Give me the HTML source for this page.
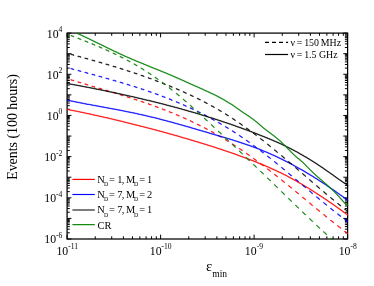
<!DOCTYPE html>
<html><head><meta charset="utf-8"><title>chart</title>
<style>
html,body{margin:0;padding:0;background:#fff;}
body{width:374px;height:286px;position:relative;overflow:hidden;font-family:"Liberation Serif",serif;}
</style></head><body>
<svg width="374" height="286" viewBox="0 0 374 286" style="position:absolute;left:0;top:0;will-change:transform">
<defs><clipPath id="c"><rect x="66.5" y="32.5" width="281.7" height="207.1"/></clipPath></defs>
<path d="M67.10,239.0 v-4.3 M67.10,33.1 v4.3 M95.25,239.0 v-2.7 M95.25,33.1 v2.7 M111.71,239.0 v-2.7 M111.71,33.1 v2.7 M123.39,239.0 v-2.7 M123.39,33.1 v2.7 M132.45,239.0 v-2.7 M132.45,33.1 v2.7 M139.86,239.0 v-2.7 M139.86,33.1 v2.7 M146.12,239.0 v-2.7 M146.12,33.1 v2.7 M151.54,239.0 v-2.7 M151.54,33.1 v2.7 M156.32,239.0 v-2.7 M156.32,33.1 v2.7 M160.60,239.0 v-4.3 M160.60,33.1 v4.3 M188.75,239.0 v-2.7 M188.75,33.1 v2.7 M205.21,239.0 v-2.7 M205.21,33.1 v2.7 M216.89,239.0 v-2.7 M216.89,33.1 v2.7 M225.95,239.0 v-2.7 M225.95,33.1 v2.7 M233.36,239.0 v-2.7 M233.36,33.1 v2.7 M239.62,239.0 v-2.7 M239.62,33.1 v2.7 M245.04,239.0 v-2.7 M245.04,33.1 v2.7 M249.82,239.0 v-2.7 M249.82,33.1 v2.7 M254.10,239.0 v-4.3 M254.10,33.1 v4.3 M282.25,239.0 v-2.7 M282.25,33.1 v2.7 M298.71,239.0 v-2.7 M298.71,33.1 v2.7 M310.39,239.0 v-2.7 M310.39,33.1 v2.7 M319.45,239.0 v-2.7 M319.45,33.1 v2.7 M326.86,239.0 v-2.7 M326.86,33.1 v2.7 M333.12,239.0 v-2.7 M333.12,33.1 v2.7 M338.54,239.0 v-2.7 M338.54,33.1 v2.7 M343.32,239.0 v-2.7 M343.32,33.1 v2.7 M347.60,239.0 v-4.3 M347.60,33.1 v4.3 M67.1,239.00 h4.3 M347.6,239.00 h-4.3 M67.1,232.80 h2.7 M347.6,232.80 h-2.7 M67.1,229.18 h2.7 M347.6,229.18 h-2.7 M67.1,226.60 h2.7 M347.6,226.60 h-2.7 M67.1,224.61 h2.7 M347.6,224.61 h-2.7 M67.1,222.98 h2.7 M347.6,222.98 h-2.7 M67.1,221.60 h2.7 M347.6,221.60 h-2.7 M67.1,220.41 h2.7 M347.6,220.41 h-2.7 M67.1,219.35 h2.7 M347.6,219.35 h-2.7 M67.1,218.41 h4.3 M347.6,218.41 h-4.3 M67.1,212.21 h2.7 M347.6,212.21 h-2.7 M67.1,208.59 h2.7 M347.6,208.59 h-2.7 M67.1,206.01 h2.7 M347.6,206.01 h-2.7 M67.1,204.02 h2.7 M347.6,204.02 h-2.7 M67.1,202.39 h2.7 M347.6,202.39 h-2.7 M67.1,201.01 h2.7 M347.6,201.01 h-2.7 M67.1,199.82 h2.7 M347.6,199.82 h-2.7 M67.1,198.76 h2.7 M347.6,198.76 h-2.7 M67.1,197.82 h4.3 M347.6,197.82 h-4.3 M67.1,191.62 h2.7 M347.6,191.62 h-2.7 M67.1,188.00 h2.7 M347.6,188.00 h-2.7 M67.1,185.42 h2.7 M347.6,185.42 h-2.7 M67.1,183.43 h2.7 M347.6,183.43 h-2.7 M67.1,181.80 h2.7 M347.6,181.80 h-2.7 M67.1,180.42 h2.7 M347.6,180.42 h-2.7 M67.1,179.23 h2.7 M347.6,179.23 h-2.7 M67.1,178.17 h2.7 M347.6,178.17 h-2.7 M67.1,177.23 h4.3 M347.6,177.23 h-4.3 M67.1,171.03 h2.7 M347.6,171.03 h-2.7 M67.1,167.41 h2.7 M347.6,167.41 h-2.7 M67.1,164.83 h2.7 M347.6,164.83 h-2.7 M67.1,162.84 h2.7 M347.6,162.84 h-2.7 M67.1,161.21 h2.7 M347.6,161.21 h-2.7 M67.1,159.83 h2.7 M347.6,159.83 h-2.7 M67.1,158.64 h2.7 M347.6,158.64 h-2.7 M67.1,157.58 h2.7 M347.6,157.58 h-2.7 M67.1,156.64 h4.3 M347.6,156.64 h-4.3 M67.1,150.44 h2.7 M347.6,150.44 h-2.7 M67.1,146.82 h2.7 M347.6,146.82 h-2.7 M67.1,144.24 h2.7 M347.6,144.24 h-2.7 M67.1,142.25 h2.7 M347.6,142.25 h-2.7 M67.1,140.62 h2.7 M347.6,140.62 h-2.7 M67.1,139.24 h2.7 M347.6,139.24 h-2.7 M67.1,138.05 h2.7 M347.6,138.05 h-2.7 M67.1,136.99 h2.7 M347.6,136.99 h-2.7 M67.1,136.05 h4.3 M347.6,136.05 h-4.3 M67.1,129.85 h2.7 M347.6,129.85 h-2.7 M67.1,126.23 h2.7 M347.6,126.23 h-2.7 M67.1,123.65 h2.7 M347.6,123.65 h-2.7 M67.1,121.66 h2.7 M347.6,121.66 h-2.7 M67.1,120.03 h2.7 M347.6,120.03 h-2.7 M67.1,118.65 h2.7 M347.6,118.65 h-2.7 M67.1,117.46 h2.7 M347.6,117.46 h-2.7 M67.1,116.40 h2.7 M347.6,116.40 h-2.7 M67.1,115.46 h4.3 M347.6,115.46 h-4.3 M67.1,109.26 h2.7 M347.6,109.26 h-2.7 M67.1,105.64 h2.7 M347.6,105.64 h-2.7 M67.1,103.06 h2.7 M347.6,103.06 h-2.7 M67.1,101.07 h2.7 M347.6,101.07 h-2.7 M67.1,99.44 h2.7 M347.6,99.44 h-2.7 M67.1,98.06 h2.7 M347.6,98.06 h-2.7 M67.1,96.87 h2.7 M347.6,96.87 h-2.7 M67.1,95.81 h2.7 M347.6,95.81 h-2.7 M67.1,94.87 h4.3 M347.6,94.87 h-4.3 M67.1,88.67 h2.7 M347.6,88.67 h-2.7 M67.1,85.05 h2.7 M347.6,85.05 h-2.7 M67.1,82.47 h2.7 M347.6,82.47 h-2.7 M67.1,80.48 h2.7 M347.6,80.48 h-2.7 M67.1,78.85 h2.7 M347.6,78.85 h-2.7 M67.1,77.47 h2.7 M347.6,77.47 h-2.7 M67.1,76.28 h2.7 M347.6,76.28 h-2.7 M67.1,75.22 h2.7 M347.6,75.22 h-2.7 M67.1,74.28 h4.3 M347.6,74.28 h-4.3 M67.1,68.08 h2.7 M347.6,68.08 h-2.7 M67.1,64.46 h2.7 M347.6,64.46 h-2.7 M67.1,61.88 h2.7 M347.6,61.88 h-2.7 M67.1,59.89 h2.7 M347.6,59.89 h-2.7 M67.1,58.26 h2.7 M347.6,58.26 h-2.7 M67.1,56.88 h2.7 M347.6,56.88 h-2.7 M67.1,55.69 h2.7 M347.6,55.69 h-2.7 M67.1,54.63 h2.7 M347.6,54.63 h-2.7 M67.1,53.69 h4.3 M347.6,53.69 h-4.3 M67.1,47.49 h2.7 M347.6,47.49 h-2.7 M67.1,43.87 h2.7 M347.6,43.87 h-2.7 M67.1,41.29 h2.7 M347.6,41.29 h-2.7 M67.1,39.30 h2.7 M347.6,39.30 h-2.7 M67.1,37.67 h2.7 M347.6,37.67 h-2.7 M67.1,36.29 h2.7 M347.6,36.29 h-2.7 M67.1,35.10 h2.7 M347.6,35.10 h-2.7 M67.1,34.04 h2.7 M347.6,34.04 h-2.7 M67.1,33.10 h4.3 M347.6,33.10 h-4.3" stroke="#000" stroke-width="1" fill="none"/>
<rect x="67.1" y="33.1" width="280.5" height="205.9" fill="none" stroke="#000" stroke-width="1.25"/>
<g clip-path="url(#c)" stroke-width="0.52" stroke-linejoin="round">
<path d="M66.8,109.1 L67.3,109.1 L69.3,109.5 L71.3,109.9 L73.3,110.3 L75.3,110.7 L77.3,111.1 L79.3,111.5 L81.3,111.9 L83.3,112.3 L85.3,112.8 L87.3,113.2 L89.3,113.6 L91.3,114.0 L93.3,114.5 L95.3,114.9 L97.3,115.4 L99.3,115.8 L101.3,116.3 L103.3,116.7 L105.3,117.2 L107.3,117.6 L109.3,118.1 L111.3,118.5 L113.3,119.0 L115.3,119.5 L117.3,120.0 L119.3,120.4 L121.3,120.9 L123.3,121.4 L125.2,121.9 L127.2,122.4 L129.2,122.9 L131.2,123.4 L133.2,123.9 L135.2,124.4 L137.2,124.9 L139.2,125.4 L141.2,125.9 L143.2,126.4 L145.2,126.9 L147.2,127.5 L149.2,128.0 L151.2,128.5 L153.2,129.0 L155.2,129.6 L157.2,130.1 L159.2,130.6 L161.2,131.2 L163.2,131.7 L165.2,132.3 L167.2,132.8 L169.2,133.4 L171.2,133.9 L173.2,134.5 L175.2,135.1 L177.2,135.6 L179.2,136.2 L181.1,136.8 L183.1,137.4 L185.1,137.9 L187.1,138.5 L189.1,139.1 L191.1,139.7 L193.1,140.3 L195.1,140.9 L197.1,141.5 L199.1,142.1 L201.1,142.7 L203.1,143.3 L205.1,143.9 L207.1,144.5 L209.1,145.2 L211.1,145.8 L213.1,146.4 L215.1,147.1 L217.1,147.7 L219.1,148.4 L221.1,149.0 L223.1,149.7 L225.1,150.4 L227.1,151.1 L229.1,151.7 L231.1,152.4 L233.1,153.1 L235.1,153.8 L237.0,154.5 L239.0,155.2 L241.0,156.0 L243.0,156.7 L245.0,157.4 L247.0,158.2 L249.0,158.9 L251.0,159.7 L253.0,160.5 L255.0,161.2 L257.0,162.0 L259.0,162.9 L261.0,163.7 L263.0,164.5 L265.0,165.3 L267.0,166.2 L269.0,167.1 L271.0,168.0 L273.0,168.9 L275.0,169.8 L277.0,170.7 L279.0,171.7 L281.0,172.6 L283.0,173.6 L285.0,174.6 L287.0,175.6 L289.0,176.7 L291.0,177.7 L292.9,178.8 L294.9,179.9 L296.9,181.0 L298.9,182.2 L300.9,183.3 L302.9,184.5 L304.9,185.7 L306.9,186.9 L308.9,188.1 L310.9,189.3 L312.9,190.6 L314.9,191.9 L316.9,193.2 L318.9,194.5 L320.9,195.8 L322.9,197.1 L324.9,198.4 L326.9,199.8 L328.9,201.2 L330.9,202.5 L332.9,203.9 L334.9,205.3 L336.9,206.8 L338.9,208.2 L340.9,209.6 L342.9,211.1 L344.9,212.5 L346.9,214.0 L348.9,215.5 L348.9,216.0 L348.4,216.0 L346.4,214.5 L344.4,213.0 L342.4,211.6 L340.4,210.1 L338.4,208.7 L336.4,207.3 L334.4,205.8 L332.4,204.4 L330.4,203.0 L328.4,201.7 L326.4,200.3 L324.4,198.9 L322.4,197.6 L320.4,196.3 L318.4,195.0 L316.4,193.7 L314.4,192.4 L312.4,191.1 L310.4,189.8 L308.4,188.6 L306.4,187.4 L304.4,186.2 L302.4,185.0 L300.4,183.8 L298.4,182.7 L296.4,181.5 L294.4,180.4 L292.4,179.3 L290.5,178.2 L288.5,177.2 L286.5,176.1 L284.5,175.1 L282.5,174.1 L280.5,173.1 L278.5,172.2 L276.5,171.2 L274.5,170.3 L272.5,169.4 L270.5,168.5 L268.5,167.6 L266.5,166.7 L264.5,165.8 L262.5,165.0 L260.5,164.2 L258.5,163.4 L256.5,162.5 L254.5,161.7 L252.5,161.0 L250.5,160.2 L248.5,159.4 L246.5,158.7 L244.5,157.9 L242.5,157.2 L240.5,156.5 L238.5,155.7 L236.5,155.0 L234.6,154.3 L232.6,153.6 L230.6,152.9 L228.6,152.2 L226.6,151.6 L224.6,150.9 L222.6,150.2 L220.6,149.5 L218.6,148.9 L216.6,148.2 L214.6,147.6 L212.6,146.9 L210.6,146.3 L208.6,145.7 L206.6,145.0 L204.6,144.4 L202.6,143.8 L200.6,143.2 L198.6,142.6 L196.6,142.0 L194.6,141.4 L192.6,140.8 L190.6,140.2 L188.6,139.6 L186.6,139.0 L184.6,138.4 L182.6,137.9 L180.6,137.3 L178.7,136.7 L176.7,136.1 L174.7,135.6 L172.7,135.0 L170.7,134.4 L168.7,133.9 L166.7,133.3 L164.7,132.8 L162.7,132.2 L160.7,131.7 L158.7,131.1 L156.7,130.6 L154.7,130.1 L152.7,129.5 L150.7,129.0 L148.7,128.5 L146.7,128.0 L144.7,127.4 L142.7,126.9 L140.7,126.4 L138.7,125.9 L136.7,125.4 L134.7,124.9 L132.7,124.4 L130.7,123.9 L128.7,123.4 L126.7,122.9 L124.7,122.4 L122.8,121.9 L120.8,121.4 L118.8,120.9 L116.8,120.5 L114.8,120.0 L112.8,119.5 L110.8,119.0 L108.8,118.6 L106.8,118.1 L104.8,117.7 L102.8,117.2 L100.8,116.8 L98.8,116.3 L96.8,115.9 L94.8,115.4 L92.8,115.0 L90.8,114.5 L88.8,114.1 L86.8,113.7 L84.8,113.3 L82.8,112.8 L80.8,112.4 L78.8,112.0 L76.8,111.6 L74.8,111.2 L72.8,110.8 L70.8,110.4 L68.8,110.0 L66.8,109.6Z" fill="#ff0000" stroke="#ff0000"/>
<path d="M70.8,79.6 L71.2,79.6 L72.2,79.9 L73.1,80.1 L74.0,80.4 L74.0,80.9 L73.5,80.9 L72.6,80.6 L71.7,80.4 L70.8,80.1Z M77.8,81.7 L78.3,81.7 L79.2,82.0 L80.1,82.3 L81.1,82.6 L81.1,83.1 L80.6,83.1 L79.6,82.8 L78.7,82.5 L77.8,82.2Z M84.8,83.8 L85.3,83.8 L86.2,84.1 L87.2,84.4 L88.1,84.7 L88.1,85.2 L87.6,85.2 L86.7,84.9 L85.7,84.6 L84.8,84.3Z M91.8,85.9 L92.3,85.9 L93.2,86.2 L94.2,86.5 L95.1,86.8 L95.1,87.3 L94.6,87.3 L93.7,87.0 L92.7,86.7 L91.8,86.4Z M98.8,88.0 L99.3,88.0 L100.3,88.3 L101.2,88.6 L102.1,88.8 L102.1,89.3 L101.6,89.3 L100.7,89.1 L99.8,88.8 L98.8,88.5Z M105.8,90.1 L106.3,90.1 L107.3,90.4 L108.2,90.7 L109.1,91.0 L109.1,91.5 L108.6,91.5 L107.7,91.2 L106.8,90.9 L105.8,90.6Z M112.9,92.2 L113.4,92.2 L114.3,92.5 L115.2,92.8 L116.2,93.1 L116.2,93.6 L115.7,93.6 L114.7,93.3 L113.8,93.0 L112.9,92.7Z M119.9,94.4 L120.4,94.4 L121.3,94.7 L122.3,95.0 L123.2,95.3 L123.2,95.8 L122.7,95.8 L121.8,95.5 L120.8,95.2 L119.9,94.9Z M126.9,96.6 L127.4,96.6 L128.3,96.9 L129.3,97.2 L130.2,97.5 L130.2,98.0 L129.7,98.0 L128.8,97.7 L127.8,97.4 L126.9,97.1Z M133.9,98.9 L134.4,98.9 L135.4,99.2 L136.3,99.5 L137.2,99.8 L137.2,100.3 L136.7,100.3 L135.8,100.0 L134.9,99.7 L133.9,99.4Z M140.9,101.2 L141.4,101.2 L142.4,101.5 L143.3,101.8 L144.2,102.1 L144.2,102.6 L143.8,102.6 L142.8,102.3 L141.9,102.0 L140.9,101.7Z M148.0,103.6 L148.5,103.6 L149.4,103.9 L150.3,104.3 L151.3,104.6 L151.3,105.1 L150.8,105.1 L149.8,104.8 L148.9,104.4 L148.0,104.1Z M155.0,106.1 L155.5,106.1 L156.4,106.5 L157.4,106.8 L158.3,107.2 L158.3,107.7 L157.8,107.7 L156.9,107.3 L155.9,107.0 L155.0,106.6Z M162.0,108.8 L162.5,108.8 L163.4,109.1 L164.4,109.5 L165.3,109.8 L165.3,110.3 L164.8,110.3 L163.9,110.0 L162.9,109.6 L162.0,109.3Z M169.0,111.5 L169.5,111.5 L170.5,111.9 L171.4,112.3 L172.3,112.6 L172.3,113.1 L171.8,113.1 L170.9,112.8 L170.0,112.4 L169.0,112.0Z M176.1,114.4 L176.6,114.4 L177.5,114.8 L178.4,115.2 L179.4,115.6 L179.4,116.1 L178.9,116.1 L177.9,115.7 L177.0,115.3 L176.1,114.9Z M183.1,117.4 L183.6,117.4 L184.5,117.8 L185.4,118.3 L186.4,118.7 L186.4,119.2 L185.9,119.2 L184.9,118.8 L184.0,118.3 L183.1,117.9Z M190.1,120.6 L190.6,120.6 L191.5,121.1 L192.5,121.5 L193.4,122.0 L193.4,122.5 L192.9,122.5 L192.0,122.0 L191.0,121.6 L190.1,121.1Z M197.1,124.0 L197.6,124.0 L198.5,124.5 L199.5,124.9 L200.4,125.4 L200.4,125.9 L199.9,125.9 L199.0,125.4 L198.0,125.0 L197.1,124.5Z M204.1,127.6 L204.6,127.6 L205.6,128.0 L206.5,128.5 L207.4,129.0 L207.4,129.5 L206.9,129.5 L206.0,129.0 L205.1,128.5 L204.1,128.1Z M211.1,131.3 L211.6,131.3 L212.6,131.8 L213.5,132.3 L214.4,132.9 L214.4,133.4 L213.9,133.4 L213.0,132.8 L212.1,132.3 L211.1,131.8Z M218.2,135.3 L218.7,135.3 L219.6,135.8 L220.5,136.3 L221.5,136.9 L221.5,137.4 L221.0,137.4 L220.0,136.8 L219.1,136.3 L218.2,135.8Z M225.2,139.4 L225.7,139.4 L226.6,140.0 L227.6,140.6 L228.5,141.1 L228.5,141.6 L228.0,141.6 L227.1,141.1 L226.1,140.5 L225.2,139.9Z M232.2,143.8 L232.7,143.8 L233.6,144.4 L234.6,145.0 L235.5,145.6 L235.5,146.1 L235.0,146.1 L234.1,145.5 L233.1,144.9 L232.2,144.3Z M239.2,148.4 L239.7,148.4 L240.7,149.0 L241.6,149.6 L242.5,150.3 L242.5,150.8 L242.0,150.8 L241.1,150.1 L240.2,149.5 L239.2,148.9Z M246.2,153.2 L246.8,153.2 L247.7,153.8 L248.6,154.5 L249.6,155.1 L249.6,155.6 L249.1,155.6 L248.1,155.0 L247.2,154.3 L246.2,153.7Z M253.3,158.2 L253.8,158.2 L254.7,158.9 L255.6,159.5 L256.6,160.2 L256.6,160.7 L256.1,160.7 L255.1,160.0 L254.2,159.4 L253.3,158.7Z M260.3,163.4 L260.8,163.4 L261.7,164.1 L262.7,164.8 L263.6,165.5 L263.6,166.0 L263.1,166.0 L262.2,165.3 L261.2,164.6 L260.3,163.9Z M267.3,168.7 L267.8,168.7 L268.7,169.4 L269.7,170.1 L270.6,170.9 L270.6,171.4 L270.1,171.4 L269.2,170.6 L268.2,169.9 L267.3,169.2Z M274.3,174.2 L274.8,174.2 L275.8,174.9 L276.7,175.6 L277.6,176.4 L277.6,176.9 L277.1,176.9 L276.2,176.1 L275.3,175.4 L274.3,174.7Z M281.4,179.8 L281.9,179.8 L282.8,180.5 L283.7,181.3 L284.7,182.0 L284.7,182.5 L284.2,182.5 L283.2,181.8 L282.3,181.0 L281.4,180.3Z M288.4,185.4 L288.9,185.4 L289.8,186.2 L290.7,187.0 L291.7,187.7 L291.7,188.2 L291.2,188.2 L290.2,187.5 L289.3,186.7 L288.4,185.9Z M295.4,191.2 L295.9,191.2 L296.8,192.0 L297.8,192.8 L298.7,193.5 L298.7,194.0 L298.2,194.0 L297.3,193.3 L296.3,192.5 L295.4,191.7Z M302.4,197.0 L302.9,197.0 L303.8,197.8 L304.8,198.6 L305.7,199.3 L305.7,199.8 L305.2,199.8 L304.3,199.1 L303.3,198.3 L302.4,197.5Z M309.4,202.8 L309.9,202.8 L310.9,203.6 L311.8,204.4 L312.7,205.2 L312.7,205.7 L312.2,205.7 L311.3,204.9 L310.4,204.1 L309.4,203.3Z M316.4,208.6 L316.9,208.6 L317.9,209.4 L318.8,210.2 L319.8,210.9 L319.8,211.4 L319.2,211.4 L318.3,210.7 L317.4,209.9 L316.4,209.1Z M323.5,214.4 L324.0,214.4 L324.9,215.1 L325.8,215.9 L326.8,216.7 L326.8,217.2 L326.3,217.2 L325.3,216.4 L324.4,215.6 L323.5,214.9Z M330.5,220.1 L331.0,220.1 L331.9,220.8 L332.9,221.6 L333.8,222.3 L333.8,222.8 L333.3,222.8 L332.4,222.1 L331.4,221.3 L330.5,220.6Z M337.5,225.6 L338.0,225.6 L338.9,226.4 L339.9,227.1 L340.8,227.8 L340.8,228.3 L340.3,228.3 L339.4,227.6 L338.4,226.9 L337.5,226.1Z M344.5,231.1 L345.0,231.1 L346.0,231.8 L346.9,232.5 L347.8,233.2 L347.8,233.7 L347.3,233.7 L346.4,233.0 L345.5,232.3 L344.5,231.6Z" fill="#ff0000" stroke="#ff0000"/>
<path d="M66.8,99.9 L67.3,99.9 L69.3,100.3 L71.3,100.7 L73.3,101.1 L75.3,101.5 L77.3,101.9 L79.3,102.3 L81.3,102.7 L83.3,103.1 L85.3,103.5 L87.3,103.9 L89.3,104.2 L91.3,104.6 L93.3,105.0 L95.3,105.3 L97.3,105.7 L99.3,106.1 L101.3,106.5 L103.3,106.8 L105.3,107.2 L107.3,107.6 L109.3,107.9 L111.3,108.3 L113.3,108.7 L115.3,109.0 L117.3,109.4 L119.3,109.8 L121.3,110.2 L123.3,110.6 L125.2,111.0 L127.2,111.4 L129.2,111.8 L131.2,112.2 L133.2,112.6 L135.2,113.0 L137.2,113.4 L139.2,113.9 L141.2,114.3 L143.2,114.8 L145.2,115.2 L147.2,115.7 L149.2,116.2 L151.2,116.7 L153.2,117.1 L155.2,117.6 L157.2,118.1 L159.2,118.6 L161.2,119.2 L163.2,119.7 L165.2,120.2 L167.2,120.7 L169.2,121.3 L171.2,121.8 L173.2,122.3 L175.2,122.9 L177.2,123.4 L179.2,124.0 L181.1,124.6 L183.1,125.1 L185.1,125.7 L187.1,126.3 L189.1,126.8 L191.1,127.4 L193.1,128.0 L195.1,128.6 L197.1,129.2 L199.1,129.8 L201.1,130.3 L203.1,130.9 L205.1,131.5 L207.1,132.1 L209.1,132.7 L211.1,133.3 L213.1,133.9 L215.1,134.5 L217.1,135.1 L219.1,135.7 L221.1,136.2 L223.1,136.8 L225.1,137.4 L227.1,138.0 L229.1,138.6 L231.1,139.2 L233.1,139.8 L235.1,140.5 L237.0,141.1 L239.0,141.7 L241.0,142.4 L243.0,143.0 L245.0,143.7 L247.0,144.4 L249.0,145.0 L251.0,145.8 L253.0,146.5 L255.0,147.2 L257.0,148.0 L259.0,148.7 L261.0,149.5 L263.0,150.4 L265.0,151.2 L267.0,152.0 L269.0,152.9 L271.0,153.8 L273.0,154.7 L275.0,155.6 L277.0,156.5 L279.0,157.5 L281.0,158.4 L283.0,159.4 L285.0,160.4 L287.0,161.4 L289.0,162.5 L291.0,163.5 L292.9,164.6 L294.9,165.7 L296.9,166.8 L298.9,167.9 L300.9,169.0 L302.9,170.1 L304.9,171.3 L306.9,172.5 L308.9,173.7 L310.9,174.9 L312.9,176.1 L314.9,177.4 L316.9,178.6 L318.9,179.9 L320.9,181.2 L322.9,182.5 L324.9,183.8 L326.9,185.1 L328.9,186.5 L330.9,187.9 L332.9,189.2 L334.9,190.6 L336.9,192.0 L338.9,193.4 L340.9,194.9 L342.9,196.3 L344.9,197.8 L346.9,199.3 L348.9,200.7 L348.9,201.2 L348.4,201.2 L346.4,199.8 L344.4,198.3 L342.4,196.8 L340.4,195.4 L338.4,193.9 L336.4,192.5 L334.4,191.1 L332.4,189.7 L330.4,188.4 L328.4,187.0 L326.4,185.6 L324.4,184.3 L322.4,183.0 L320.4,181.7 L318.4,180.4 L316.4,179.1 L314.4,177.9 L312.4,176.6 L310.4,175.4 L308.4,174.2 L306.4,173.0 L304.4,171.8 L302.4,170.6 L300.4,169.5 L298.4,168.4 L296.4,167.3 L294.4,166.2 L292.4,165.1 L290.5,164.0 L288.5,163.0 L286.5,161.9 L284.5,160.9 L282.5,159.9 L280.5,158.9 L278.5,158.0 L276.5,157.0 L274.5,156.1 L272.5,155.2 L270.5,154.3 L268.5,153.4 L266.5,152.5 L264.5,151.7 L262.5,150.9 L260.5,150.0 L258.5,149.2 L256.5,148.5 L254.5,147.7 L252.5,147.0 L250.5,146.3 L248.5,145.5 L246.5,144.9 L244.5,144.2 L242.5,143.5 L240.5,142.9 L238.5,142.2 L236.5,141.6 L234.6,141.0 L232.6,140.3 L230.6,139.7 L228.6,139.1 L226.6,138.5 L224.6,137.9 L222.6,137.3 L220.6,136.7 L218.6,136.2 L216.6,135.6 L214.6,135.0 L212.6,134.4 L210.6,133.8 L208.6,133.2 L206.6,132.6 L204.6,132.0 L202.6,131.4 L200.6,130.8 L198.6,130.3 L196.6,129.7 L194.6,129.1 L192.6,128.5 L190.6,127.9 L188.6,127.3 L186.6,126.8 L184.6,126.2 L182.6,125.6 L180.6,125.1 L178.7,124.5 L176.7,123.9 L174.7,123.4 L172.7,122.8 L170.7,122.3 L168.7,121.8 L166.7,121.2 L164.7,120.7 L162.7,120.2 L160.7,119.7 L158.7,119.1 L156.7,118.6 L154.7,118.1 L152.7,117.6 L150.7,117.2 L148.7,116.7 L146.7,116.2 L144.7,115.7 L142.7,115.3 L140.7,114.8 L138.7,114.4 L136.7,113.9 L134.7,113.5 L132.7,113.1 L130.7,112.7 L128.7,112.3 L126.7,111.9 L124.7,111.5 L122.8,111.1 L120.8,110.7 L118.8,110.3 L116.8,109.9 L114.8,109.5 L112.8,109.2 L110.8,108.8 L108.8,108.4 L106.8,108.1 L104.8,107.7 L102.8,107.3 L100.8,107.0 L98.8,106.6 L96.8,106.2 L94.8,105.8 L92.8,105.5 L90.8,105.1 L88.8,104.7 L86.8,104.4 L84.8,104.0 L82.8,103.6 L80.8,103.2 L78.8,102.8 L76.8,102.4 L74.8,102.0 L72.8,101.6 L70.8,101.2 L68.8,100.8 L66.8,100.4Z" fill="#0000ff" stroke="#0000ff"/>
<path d="M70.8,68.4 L71.2,68.4 L72.2,68.6 L73.1,68.9 L74.0,69.1 L74.0,69.6 L73.5,69.6 L72.6,69.4 L71.7,69.1 L70.8,68.9Z M77.8,70.3 L78.3,70.3 L79.2,70.5 L80.1,70.8 L81.1,71.0 L81.1,71.5 L80.6,71.5 L79.6,71.3 L78.7,71.0 L77.8,70.8Z M84.8,72.2 L85.3,72.2 L86.2,72.4 L87.2,72.7 L88.1,72.9 L88.1,73.4 L87.6,73.4 L86.7,73.2 L85.7,72.9 L84.8,72.7Z M91.8,74.1 L92.3,74.1 L93.2,74.3 L94.2,74.6 L95.1,74.8 L95.1,75.3 L94.6,75.3 L93.7,75.1 L92.7,74.8 L91.8,74.6Z M98.8,76.0 L99.3,76.0 L100.3,76.3 L101.2,76.5 L102.1,76.8 L102.1,77.3 L101.6,77.3 L100.7,77.0 L99.8,76.8 L98.8,76.5Z M105.8,78.0 L106.3,78.0 L107.3,78.2 L108.2,78.5 L109.1,78.8 L109.1,79.3 L108.6,79.3 L107.7,79.0 L106.8,78.7 L105.8,78.5Z M112.9,80.0 L113.4,80.0 L114.3,80.2 L115.2,80.5 L116.2,80.8 L116.2,81.3 L115.7,81.3 L114.7,81.0 L113.8,80.7 L112.9,80.5Z M119.9,82.0 L120.4,82.0 L121.3,82.3 L122.3,82.6 L123.2,82.9 L123.2,83.4 L122.7,83.4 L121.8,83.1 L120.8,82.8 L119.9,82.5Z M126.9,84.1 L127.4,84.1 L128.3,84.4 L129.3,84.7 L130.2,85.0 L130.2,85.5 L129.7,85.5 L128.8,85.2 L127.8,84.9 L126.9,84.6Z M133.9,86.3 L134.4,86.3 L135.4,86.6 L136.3,86.9 L137.2,87.2 L137.2,87.7 L136.7,87.7 L135.8,87.4 L134.9,87.1 L133.9,86.8Z M140.9,88.6 L141.4,88.6 L142.4,88.9 L143.3,89.2 L144.2,89.5 L144.2,90.0 L143.8,90.0 L142.8,89.7 L141.9,89.4 L140.9,89.1Z M148.0,91.0 L148.5,91.0 L149.4,91.3 L150.3,91.6 L151.3,91.9 L151.3,92.4 L150.8,92.4 L149.8,92.1 L148.9,91.8 L148.0,91.5Z M155.0,93.4 L155.5,93.4 L156.4,93.8 L157.4,94.1 L158.3,94.5 L158.3,95.0 L157.8,95.0 L156.9,94.6 L155.9,94.3 L155.0,93.9Z M162.0,96.0 L162.5,96.0 L163.4,96.4 L164.4,96.7 L165.3,97.1 L165.3,97.6 L164.8,97.6 L163.9,97.2 L162.9,96.9 L162.0,96.5Z M169.0,98.7 L169.5,98.7 L170.5,99.1 L171.4,99.5 L172.3,99.9 L172.3,100.4 L171.8,100.4 L170.9,100.0 L170.0,99.6 L169.0,99.2Z M176.1,101.6 L176.6,101.6 L177.5,102.0 L178.4,102.4 L179.4,102.8 L179.4,103.3 L178.9,103.3 L177.9,102.9 L177.0,102.5 L176.1,102.1Z M183.1,104.6 L183.6,104.6 L184.5,105.0 L185.4,105.4 L186.4,105.9 L186.4,106.4 L185.9,106.4 L184.9,105.9 L184.0,105.5 L183.1,105.1Z M190.1,107.8 L190.6,107.8 L191.5,108.2 L192.5,108.6 L193.4,109.1 L193.4,109.6 L192.9,109.6 L192.0,109.1 L191.0,108.7 L190.1,108.3Z M197.1,111.1 L197.6,111.1 L198.5,111.6 L199.5,112.0 L200.4,112.5 L200.4,113.0 L199.9,113.0 L199.0,112.5 L198.0,112.1 L197.1,111.6Z M204.1,114.6 L204.6,114.6 L205.6,115.1 L206.5,115.6 L207.4,116.1 L207.4,116.6 L206.9,116.6 L206.0,116.1 L205.1,115.6 L204.1,115.1Z M211.1,118.4 L211.6,118.4 L212.6,118.9 L213.5,119.4 L214.4,119.9 L214.4,120.4 L213.9,120.4 L213.0,119.9 L212.1,119.4 L211.1,118.9Z M218.2,122.3 L218.7,122.3 L219.6,122.8 L220.5,123.3 L221.5,123.9 L221.5,124.4 L221.0,124.4 L220.0,123.8 L219.1,123.3 L218.2,122.8Z M225.2,126.4 L225.7,126.4 L226.6,127.0 L227.6,127.5 L228.5,128.1 L228.5,128.6 L228.0,128.6 L227.1,128.0 L226.1,127.5 L225.2,126.9Z M232.2,130.7 L232.7,130.7 L233.6,131.3 L234.6,131.9 L235.5,132.5 L235.5,133.0 L235.0,133.0 L234.1,132.4 L233.1,131.8 L232.2,131.2Z M239.2,135.3 L239.7,135.3 L240.7,136.0 L241.6,136.6 L242.5,137.2 L242.5,137.7 L242.0,137.7 L241.1,137.1 L240.2,136.5 L239.2,135.8Z M246.2,140.1 L246.8,140.1 L247.7,140.8 L248.6,141.5 L249.6,142.1 L249.6,142.6 L249.1,142.6 L248.1,142.0 L247.2,141.3 L246.2,140.6Z M253.3,145.2 L253.8,145.2 L254.7,145.9 L255.6,146.6 L256.6,147.3 L256.6,147.8 L256.1,147.8 L255.1,147.1 L254.2,146.4 L253.3,145.7Z M260.3,150.5 L260.8,150.5 L261.7,151.2 L262.7,151.9 L263.6,152.6 L263.6,153.1 L263.1,153.1 L262.2,152.4 L261.2,151.7 L260.3,151.0Z M267.3,155.9 L267.8,155.9 L268.7,156.7 L269.7,157.4 L270.6,158.1 L270.6,158.6 L270.1,158.6 L269.2,157.9 L268.2,157.2 L267.3,156.4Z M274.3,161.5 L274.8,161.5 L275.8,162.3 L276.7,163.0 L277.6,163.8 L277.6,164.3 L277.1,164.3 L276.2,163.5 L275.3,162.8 L274.3,162.0Z M281.4,167.3 L281.9,167.3 L282.8,168.0 L283.7,168.8 L284.7,169.6 L284.7,170.1 L284.2,170.1 L283.2,169.3 L282.3,168.5 L281.4,167.8Z M288.4,173.1 L288.9,173.1 L289.8,173.9 L290.7,174.7 L291.7,175.4 L291.7,175.9 L291.2,175.9 L290.2,175.2 L289.3,174.4 L288.4,173.6Z M295.4,179.0 L295.9,179.0 L296.8,179.8 L297.8,180.6 L298.7,181.3 L298.7,181.8 L298.2,181.8 L297.3,181.1 L296.3,180.3 L295.4,179.5Z M302.4,184.9 L302.9,184.9 L303.8,185.7 L304.8,186.5 L305.7,187.3 L305.7,187.8 L305.2,187.8 L304.3,187.0 L303.3,186.2 L302.4,185.4Z M309.4,190.8 L309.9,190.8 L310.9,191.6 L311.8,192.4 L312.7,193.2 L312.7,193.7 L312.2,193.7 L311.3,192.9 L310.4,192.1 L309.4,191.3Z M316.4,196.7 L316.9,196.7 L317.9,197.5 L318.8,198.2 L319.8,199.0 L319.8,199.5 L319.2,199.5 L318.3,198.7 L317.4,198.0 L316.4,197.2Z M323.5,202.5 L324.0,202.5 L324.9,203.2 L325.8,204.0 L326.8,204.8 L326.8,205.3 L326.3,205.3 L325.3,204.5 L324.4,203.7 L323.5,203.0Z M330.5,208.2 L331.0,208.2 L331.9,208.9 L332.9,209.7 L333.8,210.4 L333.8,210.9 L333.3,210.9 L332.4,210.2 L331.4,209.4 L330.5,208.7Z M337.5,213.7 L338.0,213.7 L338.9,214.4 L339.9,215.2 L340.8,215.9 L340.8,216.4 L340.3,216.4 L339.4,215.7 L338.4,214.9 L337.5,214.2Z M344.5,219.1 L345.0,219.1 L346.0,219.8 L346.9,220.5 L347.8,221.2 L347.8,221.7 L347.3,221.7 L346.4,221.0 L345.5,220.3 L344.5,219.6Z" fill="#0000ff" stroke="#0000ff"/>
<path d="M66.8,83.2 L67.3,83.2 L69.3,83.5 L71.3,83.9 L73.3,84.3 L75.3,84.7 L77.3,85.0 L79.3,85.4 L81.3,85.8 L83.3,86.2 L85.3,86.6 L87.3,87.0 L89.3,87.3 L91.3,87.7 L93.3,88.1 L95.3,88.5 L97.3,88.9 L99.3,89.3 L101.3,89.7 L103.3,90.1 L105.3,90.5 L107.3,91.0 L109.3,91.4 L111.3,91.8 L113.3,92.2 L115.3,92.6 L117.3,93.1 L119.3,93.5 L121.3,93.9 L123.3,94.4 L125.2,94.8 L127.2,95.2 L129.2,95.7 L131.2,96.1 L133.2,96.6 L135.2,97.0 L137.2,97.5 L139.2,98.0 L141.2,98.4 L143.2,98.9 L145.2,99.4 L147.2,99.9 L149.2,100.3 L151.2,100.8 L153.2,101.3 L155.2,101.8 L157.2,102.3 L159.2,102.8 L161.2,103.3 L163.2,103.8 L165.2,104.3 L167.2,104.9 L169.2,105.4 L171.2,105.9 L173.2,106.4 L175.2,107.0 L177.2,107.5 L179.2,108.1 L181.1,108.6 L183.1,109.2 L185.1,109.7 L187.1,110.3 L189.1,110.9 L191.1,111.5 L193.1,112.0 L195.1,112.6 L197.1,113.2 L199.1,113.8 L201.1,114.4 L203.1,115.0 L205.1,115.6 L207.1,116.3 L209.1,116.9 L211.1,117.5 L213.1,118.1 L215.1,118.8 L217.1,119.4 L219.1,120.1 L221.1,120.7 L223.1,121.4 L225.1,122.1 L227.1,122.7 L229.1,123.4 L231.1,124.1 L233.1,124.8 L235.1,125.5 L237.0,126.2 L239.0,126.9 L241.0,127.6 L243.0,128.4 L245.0,129.1 L247.0,129.8 L249.0,130.6 L251.0,131.3 L253.0,132.1 L255.0,132.8 L257.0,133.6 L259.0,134.4 L261.0,135.2 L263.0,136.0 L265.0,136.8 L267.0,137.6 L269.0,138.4 L271.0,139.2 L273.0,140.1 L275.0,141.0 L277.0,141.8 L279.0,142.7 L281.0,143.6 L283.0,144.6 L285.0,145.5 L287.0,146.5 L289.0,147.5 L291.0,148.5 L292.9,149.5 L294.9,150.6 L296.9,151.6 L298.9,152.7 L300.9,153.9 L302.9,155.0 L304.9,156.2 L306.9,157.3 L308.9,158.6 L310.9,159.8 L312.9,161.0 L314.9,162.3 L316.9,163.6 L318.9,164.9 L320.9,166.3 L322.9,167.6 L324.9,169.0 L326.9,170.4 L328.9,171.8 L330.9,173.2 L332.9,174.6 L334.9,176.1 L336.9,177.5 L338.9,178.9 L340.9,180.3 L342.9,181.7 L344.9,183.0 L346.9,184.3 L348.9,185.7 L348.9,186.2 L348.4,186.2 L346.4,184.8 L344.4,183.5 L342.4,182.2 L340.4,180.8 L338.4,179.4 L336.4,178.0 L334.4,176.6 L332.4,175.1 L330.4,173.7 L328.4,172.3 L326.4,170.9 L324.4,169.5 L322.4,168.1 L320.4,166.8 L318.4,165.4 L316.4,164.1 L314.4,162.8 L312.4,161.5 L310.4,160.3 L308.4,159.1 L306.4,157.8 L304.4,156.7 L302.4,155.5 L300.4,154.4 L298.4,153.2 L296.4,152.1 L294.4,151.1 L292.4,150.0 L290.5,149.0 L288.5,148.0 L286.5,147.0 L284.5,146.0 L282.5,145.1 L280.5,144.1 L278.5,143.2 L276.5,142.3 L274.5,141.5 L272.5,140.6 L270.5,139.7 L268.5,138.9 L266.5,138.1 L264.5,137.3 L262.5,136.5 L260.5,135.7 L258.5,134.9 L256.5,134.1 L254.5,133.3 L252.5,132.6 L250.5,131.8 L248.5,131.1 L246.5,130.3 L244.5,129.6 L242.5,128.9 L240.5,128.1 L238.5,127.4 L236.5,126.7 L234.6,126.0 L232.6,125.3 L230.6,124.6 L228.6,123.9 L226.6,123.2 L224.6,122.6 L222.6,121.9 L220.6,121.2 L218.6,120.6 L216.6,119.9 L214.6,119.3 L212.6,118.6 L210.6,118.0 L208.6,117.4 L206.6,116.8 L204.6,116.1 L202.6,115.5 L200.6,114.9 L198.6,114.3 L196.6,113.7 L194.6,113.1 L192.6,112.5 L190.6,112.0 L188.6,111.4 L186.6,110.8 L184.6,110.2 L182.6,109.7 L180.6,109.1 L178.7,108.6 L176.7,108.0 L174.7,107.5 L172.7,106.9 L170.7,106.4 L168.7,105.9 L166.7,105.4 L164.7,104.8 L162.7,104.3 L160.7,103.8 L158.7,103.3 L156.7,102.8 L154.7,102.3 L152.7,101.8 L150.7,101.3 L148.7,100.8 L146.7,100.4 L144.7,99.9 L142.7,99.4 L140.7,98.9 L138.7,98.5 L136.7,98.0 L134.7,97.5 L132.7,97.1 L130.7,96.6 L128.7,96.2 L126.7,95.7 L124.7,95.3 L122.8,94.9 L120.8,94.4 L118.8,94.0 L116.8,93.6 L114.8,93.1 L112.8,92.7 L110.8,92.3 L108.8,91.9 L106.8,91.5 L104.8,91.0 L102.8,90.6 L100.8,90.2 L98.8,89.8 L96.8,89.4 L94.8,89.0 L92.8,88.6 L90.8,88.2 L88.8,87.8 L86.8,87.5 L84.8,87.1 L82.8,86.7 L80.8,86.3 L78.8,85.9 L76.8,85.5 L74.8,85.2 L72.8,84.8 L70.8,84.4 L68.8,84.0 L66.8,83.7Z" fill="#000000" stroke="#000000"/>
<path d="M70.8,54.1 L71.2,54.1 L72.2,54.3 L73.1,54.6 L74.0,54.9 L74.0,55.4 L73.5,55.4 L72.6,55.1 L71.7,54.8 L70.8,54.6Z M77.8,56.0 L78.3,56.0 L79.2,56.3 L80.1,56.5 L81.1,56.8 L81.1,57.3 L80.6,57.3 L79.6,57.0 L78.7,56.8 L77.8,56.5Z M84.8,57.9 L85.3,57.9 L86.2,58.2 L87.2,58.4 L88.1,58.7 L88.1,59.2 L87.6,59.2 L86.7,58.9 L85.7,58.7 L84.8,58.4Z M91.8,59.9 L92.3,59.9 L93.2,60.1 L94.2,60.4 L95.1,60.7 L95.1,61.2 L94.6,61.2 L93.7,60.9 L92.7,60.6 L91.8,60.4Z M98.8,61.9 L99.3,61.9 L100.3,62.1 L101.2,62.4 L102.1,62.7 L102.1,63.2 L101.6,63.2 L100.7,62.9 L99.8,62.6 L98.8,62.4Z M105.8,63.9 L106.3,63.9 L107.3,64.2 L108.2,64.4 L109.1,64.7 L109.1,65.2 L108.6,65.2 L107.7,64.9 L106.8,64.7 L105.8,64.4Z M112.9,66.0 L113.4,66.0 L114.3,66.3 L115.2,66.5 L116.2,66.8 L116.2,67.3 L115.7,67.3 L114.7,67.0 L113.8,66.8 L112.9,66.5Z M119.9,68.1 L120.4,68.1 L121.3,68.4 L122.3,68.7 L123.2,69.0 L123.2,69.5 L122.7,69.5 L121.8,69.2 L120.8,68.9 L119.9,68.6Z M126.9,70.4 L127.4,70.4 L128.3,70.7 L129.3,71.0 L130.2,71.3 L130.2,71.8 L129.7,71.8 L128.8,71.5 L127.8,71.2 L126.9,70.9Z M133.9,72.7 L134.4,72.7 L135.4,73.0 L136.3,73.3 L137.2,73.6 L137.2,74.1 L136.7,74.1 L135.8,73.8 L134.9,73.5 L133.9,73.2Z M140.9,75.1 L141.4,75.1 L142.4,75.4 L143.3,75.7 L144.2,76.1 L144.2,76.6 L143.8,76.6 L142.8,76.2 L141.9,75.9 L140.9,75.6Z M148.0,77.6 L148.5,77.6 L149.4,77.9 L150.3,78.2 L151.3,78.6 L151.3,79.1 L150.8,79.1 L149.8,78.7 L148.9,78.4 L148.0,78.1Z M155.0,80.2 L155.5,80.2 L156.4,80.5 L157.4,80.9 L158.3,81.2 L158.3,81.7 L157.8,81.7 L156.9,81.4 L155.9,81.0 L155.0,80.7Z M162.0,82.8 L162.5,82.8 L163.4,83.2 L164.4,83.6 L165.3,83.9 L165.3,84.4 L164.8,84.4 L163.9,84.1 L162.9,83.7 L162.0,83.3Z M169.0,85.6 L169.5,85.6 L170.5,86.0 L171.4,86.4 L172.3,86.8 L172.3,87.3 L171.8,87.3 L170.9,86.9 L170.0,86.5 L169.0,86.1Z M176.1,88.5 L176.6,88.5 L177.5,88.9 L178.4,89.3 L179.4,89.7 L179.4,90.2 L178.9,90.2 L177.9,89.8 L177.0,89.4 L176.1,89.0Z M183.1,91.6 L183.6,91.6 L184.5,92.0 L185.4,92.4 L186.4,92.9 L186.4,93.4 L185.9,93.4 L184.9,92.9 L184.0,92.5 L183.1,92.1Z M190.1,94.8 L190.6,94.8 L191.5,95.2 L192.5,95.7 L193.4,96.1 L193.4,96.6 L192.9,96.6 L192.0,96.2 L191.0,95.7 L190.1,95.3Z M197.1,98.2 L197.6,98.2 L198.5,98.6 L199.5,99.1 L200.4,99.6 L200.4,100.1 L199.9,100.1 L199.0,99.6 L198.0,99.1 L197.1,98.7Z M204.1,101.7 L204.6,101.7 L205.6,102.2 L206.5,102.7 L207.4,103.2 L207.4,103.7 L206.9,103.7 L206.0,103.2 L205.1,102.7 L204.1,102.2Z M211.1,105.5 L211.6,105.5 L212.6,106.0 L213.5,106.5 L214.4,107.1 L214.4,107.6 L213.9,107.6 L213.0,107.0 L212.1,106.5 L211.1,106.0Z M218.2,109.5 L218.7,109.5 L219.6,110.0 L220.5,110.6 L221.5,111.1 L221.5,111.6 L221.0,111.6 L220.0,111.1 L219.1,110.5 L218.2,110.0Z M225.2,113.7 L225.7,113.7 L226.6,114.3 L227.6,114.9 L228.5,115.5 L228.5,116.0 L228.0,116.0 L227.1,115.4 L226.1,114.8 L225.2,114.2Z M232.2,118.2 L232.7,118.2 L233.6,118.8 L234.6,119.4 L235.5,120.1 L235.5,120.6 L235.0,120.6 L234.1,119.9 L233.1,119.3 L232.2,118.7Z M239.2,122.9 L239.7,122.9 L240.7,123.6 L241.6,124.2 L242.5,124.9 L242.5,125.4 L242.0,125.4 L241.1,124.7 L240.2,124.1 L239.2,123.4Z M246.2,127.9 L246.8,127.9 L247.7,128.5 L248.6,129.2 L249.6,129.9 L249.6,130.4 L249.1,130.4 L248.1,129.7 L247.2,129.0 L246.2,128.4Z M253.3,133.0 L253.8,133.0 L254.7,133.7 L255.6,134.4 L256.6,135.1 L256.6,135.6 L256.1,135.6 L255.1,134.9 L254.2,134.2 L253.3,133.5Z M260.3,138.4 L260.8,138.4 L261.7,139.1 L262.7,139.8 L263.6,140.6 L263.6,141.1 L263.1,141.1 L262.2,140.3 L261.2,139.6 L260.3,138.9Z M267.3,143.9 L267.8,143.9 L268.7,144.7 L269.7,145.4 L270.6,146.2 L270.6,146.7 L270.1,146.7 L269.2,145.9 L268.2,145.2 L267.3,144.4Z M274.3,149.7 L274.8,149.7 L275.8,150.4 L276.7,151.2 L277.6,152.0 L277.6,152.5 L277.1,152.5 L276.2,151.7 L275.3,150.9 L274.3,150.2Z M281.4,155.5 L281.9,155.5 L282.8,156.3 L283.7,157.1 L284.7,157.9 L284.7,158.4 L284.2,158.4 L283.2,157.6 L282.3,156.8 L281.4,156.0Z M288.4,161.4 L288.9,161.4 L289.8,162.2 L290.7,163.0 L291.7,163.8 L291.7,164.3 L291.2,164.3 L290.2,163.5 L289.3,162.7 L288.4,161.9Z M295.4,167.5 L295.9,167.5 L296.8,168.3 L297.8,169.1 L298.7,169.9 L298.7,170.4 L298.2,170.4 L297.3,169.6 L296.3,168.8 L295.4,168.0Z M302.4,173.5 L302.9,173.5 L303.8,174.3 L304.8,175.1 L305.7,176.0 L305.7,176.5 L305.2,176.5 L304.3,175.6 L303.3,174.8 L302.4,174.0Z M309.4,179.6 L309.9,179.6 L310.9,180.4 L311.8,181.2 L312.7,182.0 L312.7,182.5 L312.2,182.5 L311.3,181.7 L310.4,180.9 L309.4,180.1Z M316.4,185.6 L316.9,185.6 L317.9,186.4 L318.8,187.2 L319.8,188.0 L319.8,188.5 L319.2,188.5 L318.3,187.7 L317.4,186.9 L316.4,186.1Z M323.5,191.6 L324.0,191.6 L324.9,192.4 L325.8,193.2 L326.8,194.0 L326.8,194.5 L326.3,194.5 L325.3,193.7 L324.4,192.9 L323.5,192.1Z M330.5,197.5 L331.0,197.5 L331.9,198.3 L332.9,199.0 L333.8,199.8 L333.8,200.3 L333.3,200.3 L332.4,199.5 L331.4,198.8 L330.5,198.0Z M337.5,203.3 L338.0,203.3 L338.9,204.0 L339.9,204.8 L340.8,205.5 L340.8,206.0 L340.3,206.0 L339.4,205.3 L338.4,204.5 L337.5,203.8Z M344.5,208.9 L345.0,208.9 L346.0,209.6 L346.9,210.3 L347.8,211.0 L347.8,211.5 L347.3,211.5 L346.4,210.8 L345.5,210.1 L344.5,209.4Z" fill="#000000" stroke="#000000"/>
<path d="M76.2,32.8 L76.8,32.8 L78.7,33.7 L80.7,34.6 L82.7,35.5 L84.7,36.4 L86.7,37.4 L88.7,38.3 L90.7,39.3 L92.6,40.3 L94.6,41.2 L96.6,42.2 L98.6,43.2 L100.6,44.1 L102.6,45.1 L104.6,46.1 L106.5,47.0 L108.5,48.0 L110.5,49.0 L112.5,49.9 L114.5,50.9 L116.5,51.8 L118.5,52.7 L120.4,53.7 L122.4,54.6 L124.4,55.5 L126.4,56.4 L128.4,57.3 L130.4,58.1 L132.4,59.0 L134.3,59.8 L136.3,60.7 L138.3,61.5 L140.3,62.3 L142.3,63.1 L144.3,63.9 L146.3,64.8 L148.3,65.6 L150.2,66.4 L152.2,67.2 L154.2,68.0 L156.2,68.8 L158.2,69.6 L160.2,70.4 L162.2,71.2 L164.1,72.0 L166.1,72.8 L168.1,73.7 L170.1,74.5 L172.1,75.3 L174.1,76.2 L176.1,77.1 L178.0,77.9 L180.0,78.8 L182.0,79.7 L184.0,80.6 L186.0,81.5 L188.0,82.4 L190.0,83.3 L191.9,84.2 L193.9,85.0 L195.9,85.9 L197.9,86.8 L199.9,87.7 L201.9,88.6 L203.9,89.5 L205.8,90.4 L207.8,91.3 L209.8,92.2 L211.8,93.2 L213.8,94.1 L215.8,95.1 L217.8,96.1 L219.8,97.2 L221.7,98.2 L223.7,99.3 L225.7,100.5 L227.7,101.7 L229.7,102.9 L231.7,104.1 L233.7,105.4 L235.6,106.8 L237.6,108.2 L239.6,109.6 L241.6,111.0 L243.6,112.4 L245.6,113.7 L247.6,115.0 L249.5,116.3 L251.5,117.7 L253.5,119.1 L255.5,120.7 L257.5,122.3 L259.5,124.0 L261.5,125.7 L263.4,127.4 L265.4,129.0 L267.4,130.6 L269.4,132.1 L271.4,133.6 L273.4,135.1 L275.4,136.6 L277.3,138.2 L279.3,139.8 L281.3,141.6 L283.3,143.5 L285.3,145.5 L287.3,147.6 L289.3,149.7 L291.3,151.6 L293.2,153.6 L295.2,155.6 L297.2,157.3 L299.2,158.8 L301.2,160.4 L303.2,162.2 L305.2,164.2 L307.1,166.2 L309.1,168.3 L311.1,170.3 L313.1,172.2 L315.1,174.1 L317.1,175.9 L319.1,177.6 L321.0,179.3 L323.0,181.1 L325.0,182.8 L327.0,184.5 L329.0,186.3 L331.0,188.1 L333.0,189.9 L334.9,191.9 L336.9,193.9 L338.9,196.0 L340.9,198.3 L342.9,200.6 L344.9,202.8 L346.9,204.4 L348.9,205.2 L348.9,205.7 L348.4,205.7 L346.4,204.9 L344.4,203.3 L342.4,201.1 L340.4,198.8 L338.4,196.5 L336.4,194.4 L334.4,192.4 L332.5,190.4 L330.5,188.6 L328.5,186.8 L326.5,185.0 L324.5,183.3 L322.5,181.6 L320.5,179.8 L318.6,178.1 L316.6,176.4 L314.6,174.6 L312.6,172.7 L310.6,170.8 L308.6,168.8 L306.6,166.7 L304.7,164.7 L302.7,162.7 L300.7,160.9 L298.7,159.3 L296.7,157.8 L294.7,156.1 L292.7,154.1 L290.8,152.1 L288.8,150.2 L286.8,148.1 L284.8,146.0 L282.8,144.0 L280.8,142.1 L278.8,140.3 L276.8,138.7 L274.9,137.1 L272.9,135.6 L270.9,134.1 L268.9,132.6 L266.9,131.1 L264.9,129.5 L262.9,127.9 L261.0,126.2 L259.0,124.5 L257.0,122.8 L255.0,121.2 L253.0,119.6 L251.0,118.2 L249.0,116.8 L247.1,115.5 L245.1,114.2 L243.1,112.9 L241.1,111.5 L239.1,110.1 L237.1,108.7 L235.1,107.3 L233.2,105.9 L231.2,104.6 L229.2,103.4 L227.2,102.2 L225.2,101.0 L223.2,99.8 L221.2,98.7 L219.3,97.7 L217.3,96.6 L215.3,95.6 L213.3,94.6 L211.3,93.7 L209.3,92.7 L207.3,91.8 L205.3,90.9 L203.4,90.0 L201.4,89.1 L199.4,88.2 L197.4,87.3 L195.4,86.4 L193.4,85.5 L191.4,84.7 L189.5,83.8 L187.5,82.9 L185.5,82.0 L183.5,81.1 L181.5,80.2 L179.5,79.3 L177.5,78.4 L175.6,77.6 L173.6,76.7 L171.6,75.8 L169.6,75.0 L167.6,74.2 L165.6,73.3 L163.6,72.5 L161.7,71.7 L159.7,70.9 L157.7,70.1 L155.7,69.3 L153.7,68.5 L151.7,67.7 L149.7,66.9 L147.8,66.1 L145.8,65.3 L143.8,64.4 L141.8,63.6 L139.8,62.8 L137.8,62.0 L135.8,61.2 L133.8,60.3 L131.9,59.5 L129.9,58.6 L127.9,57.8 L125.9,56.9 L123.9,56.0 L121.9,55.1 L119.9,54.2 L118.0,53.2 L116.0,52.3 L114.0,51.4 L112.0,50.4 L110.0,49.5 L108.0,48.5 L106.0,47.5 L104.1,46.6 L102.1,45.6 L100.1,44.6 L98.1,43.7 L96.1,42.7 L94.1,41.7 L92.1,40.8 L90.2,39.8 L88.2,38.8 L86.2,37.9 L84.2,36.9 L82.2,36.0 L80.2,35.1 L78.2,34.2 L76.2,33.3Z" fill="#008000" stroke="#008000"/>
<path d="M70.8,35.3 L71.2,35.3 L72.2,35.7 L73.1,36.0 L74.0,36.4 L74.0,36.9 L73.5,36.9 L72.6,36.5 L71.7,36.2 L70.8,35.8Z M77.8,38.0 L78.3,38.0 L79.2,38.4 L80.1,38.8 L81.1,39.1 L81.1,39.6 L80.6,39.6 L79.6,39.3 L78.7,38.9 L77.8,38.5Z M84.8,40.8 L85.3,40.8 L86.2,41.2 L87.2,41.5 L88.1,41.9 L88.1,42.4 L87.6,42.4 L86.7,42.0 L85.7,41.7 L84.8,41.3Z M91.8,43.6 L92.3,43.6 L93.2,44.0 L94.2,44.4 L95.1,44.8 L95.1,45.3 L94.6,45.3 L93.7,44.9 L92.7,44.5 L91.8,44.1Z M98.8,46.6 L99.3,46.6 L100.3,47.0 L101.2,47.4 L102.1,47.8 L102.1,48.3 L101.6,48.3 L100.7,47.9 L99.8,47.5 L98.8,47.1Z M105.8,49.6 L106.3,49.6 L107.3,50.1 L108.2,50.5 L109.1,50.9 L109.1,51.4 L108.6,51.4 L107.7,51.0 L106.8,50.6 L105.8,50.1Z M112.9,52.9 L113.4,52.9 L114.3,53.3 L115.2,53.8 L116.2,54.2 L116.2,54.7 L115.7,54.7 L114.7,54.3 L113.8,53.8 L112.9,53.4Z M119.9,56.3 L120.4,56.3 L121.3,56.8 L122.3,57.2 L123.2,57.7 L123.2,58.2 L122.7,58.2 L121.8,57.7 L120.8,57.3 L119.9,56.8Z M126.9,59.9 L127.4,59.9 L128.3,60.4 L129.3,60.9 L130.2,61.4 L130.2,61.9 L129.7,61.9 L128.8,61.4 L127.8,60.9 L126.9,60.4Z M133.9,63.8 L134.4,63.8 L135.4,64.3 L136.3,64.9 L137.2,65.4 L137.2,65.9 L136.7,65.9 L135.8,65.4 L134.9,64.8 L133.9,64.3Z M140.9,67.9 L141.4,67.9 L142.4,68.5 L143.3,69.1 L144.2,69.7 L144.2,70.2 L143.8,70.2 L142.8,69.6 L141.9,69.0 L140.9,68.4Z M148.0,72.4 L148.5,72.4 L149.4,73.0 L150.3,73.6 L151.3,74.3 L151.3,74.8 L150.8,74.8 L149.8,74.1 L148.9,73.5 L148.0,72.9Z M155.0,77.1 L155.5,77.1 L156.4,77.8 L157.4,78.5 L158.3,79.1 L158.3,79.6 L157.8,79.6 L156.9,79.0 L155.9,78.3 L155.0,77.6Z M162.0,82.2 L162.5,82.2 L163.4,82.9 L164.4,83.6 L165.3,84.3 L165.3,84.8 L164.8,84.8 L163.9,84.1 L162.9,83.4 L162.0,82.7Z M169.0,87.5 L169.5,87.5 L170.5,88.3 L171.4,89.0 L172.3,89.7 L172.3,90.2 L171.8,90.2 L170.9,89.5 L170.0,88.8 L169.0,88.0Z M176.1,93.2 L176.6,93.2 L177.5,93.9 L178.4,94.7 L179.4,95.5 L179.4,96.0 L178.9,96.0 L177.9,95.2 L177.0,94.4 L176.1,93.7Z M183.1,99.1 L183.6,99.1 L184.5,99.9 L185.4,100.7 L186.4,101.5 L186.4,102.0 L185.9,102.0 L184.9,101.2 L184.0,100.4 L183.1,99.6Z M190.1,105.2 L190.6,105.2 L191.5,106.1 L192.5,106.9 L193.4,107.8 L193.4,108.3 L192.9,108.3 L192.0,107.4 L191.0,106.6 L190.1,105.7Z M197.1,111.6 L197.6,111.6 L198.5,112.4 L199.5,113.3 L200.4,114.1 L200.4,114.6 L199.9,114.6 L199.0,113.8 L198.0,112.9 L197.1,112.1Z M204.1,118.0 L204.6,118.0 L205.6,118.9 L206.5,119.7 L207.4,120.6 L207.4,121.1 L206.9,121.1 L206.0,120.2 L205.1,119.4 L204.1,118.5Z M211.1,124.5 L211.6,124.5 L212.6,125.4 L213.5,126.3 L214.4,127.1 L214.4,127.6 L213.9,127.6 L213.0,126.8 L212.1,125.9 L211.1,125.0Z M218.2,131.1 L218.7,131.1 L219.6,131.9 L220.5,132.8 L221.5,133.7 L221.5,134.2 L221.0,134.2 L220.0,133.3 L219.1,132.4 L218.2,131.6Z M225.2,137.6 L225.7,137.6 L226.6,138.5 L227.6,139.4 L228.5,140.3 L228.5,140.8 L228.0,140.8 L227.1,139.9 L226.1,139.0 L225.2,138.1Z M232.2,144.3 L232.7,144.3 L233.6,145.1 L234.6,146.0 L235.5,146.9 L235.5,147.4 L235.0,147.4 L234.1,146.5 L233.1,145.6 L232.2,144.8Z M239.2,150.9 L239.7,150.9 L240.7,151.8 L241.6,152.7 L242.5,153.6 L242.5,154.1 L242.0,154.1 L241.1,153.2 L240.2,152.3 L239.2,151.4Z M246.2,157.6 L246.8,157.6 L247.7,158.5 L248.6,159.4 L249.6,160.3 L249.6,160.8 L249.1,160.8 L248.1,159.9 L247.2,159.0 L246.2,158.1Z M253.3,164.3 L253.8,164.3 L254.7,165.2 L255.6,166.1 L256.6,167.0 L256.6,167.5 L256.1,167.5 L255.1,166.6 L254.2,165.7 L253.3,164.8Z M260.3,171.0 L260.8,171.0 L261.7,171.9 L262.7,172.8 L263.6,173.7 L263.6,174.2 L263.1,174.2 L262.2,173.3 L261.2,172.4 L260.3,171.5Z M267.3,177.8 L267.8,177.8 L268.7,178.7 L269.7,179.6 L270.6,180.5 L270.6,181.0 L270.1,181.0 L269.2,180.1 L268.2,179.2 L267.3,178.3Z M274.3,184.6 L274.8,184.6 L275.8,185.5 L276.7,186.4 L277.6,187.3 L277.6,187.8 L277.1,187.8 L276.2,186.9 L275.3,186.0 L274.3,185.1Z M281.4,191.4 L281.9,191.4 L282.8,192.3 L283.7,193.3 L284.7,194.2 L284.7,194.7 L284.2,194.7 L283.2,193.8 L282.3,192.8 L281.4,191.9Z M288.4,198.3 L288.9,198.3 L289.8,199.2 L290.7,200.1 L291.7,201.0 L291.7,201.5 L291.2,201.5 L290.2,200.6 L289.3,199.7 L288.4,198.8Z M295.4,205.1 L295.9,205.1 L296.8,206.0 L297.8,206.9 L298.7,207.8 L298.7,208.3 L298.2,208.3 L297.3,207.4 L296.3,206.5 L295.4,205.6Z M302.4,211.8 L302.9,211.8 L303.8,212.7 L304.8,213.6 L305.7,214.5 L305.7,215.0 L305.2,215.0 L304.3,214.1 L303.3,213.2 L302.4,212.3Z M309.4,218.5 L309.9,218.5 L310.9,219.4 L311.8,220.3 L312.7,221.2 L312.7,221.7 L312.2,221.7 L311.3,220.8 L310.4,219.9 L309.4,219.0Z M316.4,225.2 L316.9,225.2 L317.9,226.0 L318.8,226.9 L319.8,227.8 L319.8,228.3 L319.2,228.3 L318.3,227.4 L317.4,226.5 L316.4,225.7Z M323.5,231.6 L324.0,231.6 L324.9,232.5 L325.8,233.3 L326.8,234.2 L326.8,234.7 L326.3,234.7 L325.3,233.8 L324.4,233.0 L323.5,232.1Z M330.5,238.0 L331.0,238.0 L331.9,238.8 L332.9,239.7 L333.8,240.5 L333.8,241.0 L333.3,241.0 L332.4,240.2 L331.4,239.3 L330.5,238.5Z" fill="#008000" stroke="#008000"/>
</g>
<g fill="none" stroke-width="1.15">
<path d="M72.4,179.4 H94.8" stroke="#ff0000"/>
<path d="M72.4,194.5 H94.8" stroke="#0000ff"/>
<path d="M72.4,210.0 H94.8" stroke="#666666" stroke-width="1.7"/>
<path d="M72.4,224.65 H94.8" stroke="#008000"/>
<path d="M265.0,42.4 H288.1" stroke="#000" stroke-width="1.2" stroke-dasharray="4 3"/>
<path d="M265.0,54.5 H288.1" stroke="#000" stroke-width="1.2"/>
</g>
<g style="font-family:'Liberation Serif',serif" fill="#000">
<text x="62.4" y="243.4" font-size="11.8" text-anchor="end">10<tspan font-size="7.6" dy="-5.5">-6</tspan></text>
<text x="62.4" y="202.2" font-size="11.8" text-anchor="end">10<tspan font-size="7.6" dy="-5.5">-4</tspan></text>
<text x="62.4" y="161.0" font-size="11.8" text-anchor="end">10<tspan font-size="7.6" dy="-5.5">-2</tspan></text>
<text x="62.4" y="119.9" font-size="11.8" text-anchor="end">10<tspan font-size="7.6" dy="-5.5">0</tspan></text>
<text x="62.4" y="78.7" font-size="11.8" text-anchor="end">10<tspan font-size="7.6" dy="-5.5">2</tspan></text>
<text x="62.4" y="37.5" font-size="11.8" text-anchor="end">10<tspan font-size="7.6" dy="-5.5">4</tspan></text>
<text x="67.2" y="255.2" font-size="11.8" text-anchor="middle">10<tspan font-size="7.6" dy="-6.3">-11</tspan></text>
<text x="160.7" y="255.2" font-size="11.8" text-anchor="middle">10<tspan font-size="7.6" dy="-6.3">-10</tspan></text>
<text x="253.9" y="255.2" font-size="11.8" text-anchor="middle">10<tspan font-size="7.6" dy="-6.3">-9</tspan></text>
<text x="347.7" y="255.2" font-size="11.8" text-anchor="middle">10<tspan font-size="7.6" dy="-6.3">-8</tspan></text>
<text y="182.9" font-size="10.4"><tspan x="97.2">N</tspan><tspan x="104.1" dy="3.2" font-size="5.8">D</tspan><tspan x="109.0" dy="-3.2">=</tspan><tspan x="117.2">1</tspan><tspan x="121.8">,</tspan><tspan x="126.0">M</tspan><tspan x="134.0" dy="3.2" font-size="5.8">D</tspan><tspan x="139.2" dy="-3.2">=</tspan><tspan x="147.0">1</tspan></text>
<text y="198.2" font-size="10.4"><tspan x="97.2">N</tspan><tspan x="104.1" dy="3.2" font-size="5.8">D</tspan><tspan x="109.0" dy="-3.2">=</tspan><tspan x="117.2">7</tspan><tspan x="121.8">,</tspan><tspan x="126.0">M</tspan><tspan x="134.0" dy="3.2" font-size="5.8">D</tspan><tspan x="139.2" dy="-3.2">=</tspan><tspan x="147.0">2</tspan></text>
<text y="213.4" font-size="10.4"><tspan x="97.2">N</tspan><tspan x="104.1" dy="3.2" font-size="5.8">D</tspan><tspan x="109.0" dy="-3.2">=</tspan><tspan x="117.2">7</tspan><tspan x="121.8">,</tspan><tspan x="126.0">M</tspan><tspan x="134.0" dy="3.2" font-size="5.8">D</tspan><tspan x="139.2" dy="-3.2">=</tspan><tspan x="147.0">1</tspan></text>
<text x="97.5" y="228.8" font-size="10.4">CR</text>
<text x="290.6" y="45.6" font-size="9.9" word-spacing="-0.7">ν = 150 MHz</text>
<text x="290.6" y="58.1" font-size="9.9" word-spacing="-0.7">ν = 1.5 <tspan x="318.9">GHz</tspan></text>
<text x="206" y="271" font-size="15">ε<tspan font-size="9.5" dy="6">min</tspan></text>
<text transform="translate(16.9,127) rotate(-90)" font-size="13.9" text-anchor="middle">Events (100 hours)</text>
</g>
</svg>
</body></html>
